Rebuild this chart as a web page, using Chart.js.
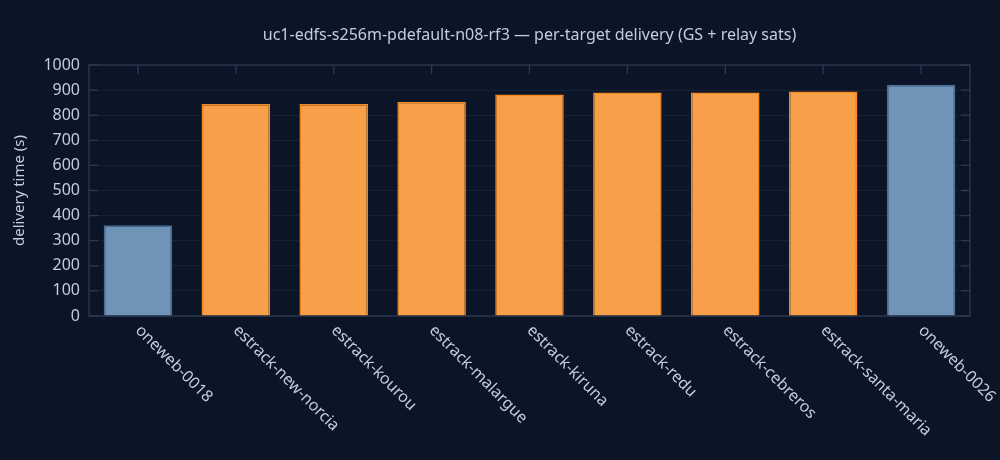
<!DOCTYPE html>
<html>
<head>
<meta charset="utf-8">
<script src="https://cdn.jsdelivr.net/npm/chart.js@4.4.1/dist/chart.umd.min.js"></script>
<style>
  html, body { margin: 0; padding: 0; background: #0b1527; }
  #wrap { width: 1000px; height: 460px; position: relative; }
</style>
</head>
<body>
<div id="wrap"><canvas id="chart"></canvas></div>
<script>
// data
const targets = [
  'oneweb-0018', 'estrack-new-norcia', 'estrack-kourou', 'estrack-malargue',
  'estrack-kiruna', 'estrack-redu', 'estrack-cebreros', 'estrack-santa-maria', 'oneweb-0026'
];
const deliveryTimes = [362, 845, 845, 854, 882, 890, 890, 894, 921];
const targetKinds = ['relay', 'gs', 'gs', 'gs', 'gs', 'gs', 'gs', 'gs', 'relay'];
const yTicks = [0, 100, 200, 300, 400, 500, 600, 700, 800, 900, 1000];

const titleText = 'uc1-edfs-s256m-pdefault-n08-rf3 \u2014 per-target delivery (GS + relay sats)';
const textColor = '#c3cddb';
const frameColor = '#2b3a51';
const fontFamily = '"Noto Sans", "Open Sans", sans-serif';

const fillFor = k => k === 'gs' ? '#f89f4a' : '#7093b8';
const edgeFor = k => k === 'gs' ? '#f5891f' : '#4a6e98';

// frame + inside ticks on all four sides (like a mirrored-tick style)
const framePlugin = {
  id: 'frame',
  beforeDatasetsDraw(chart) {
    const {ctx, chartArea: a, scales: {x, y}} = chart;
    ctx.save();
    ctx.strokeStyle = frameColor;
    ctx.lineWidth = 1.3;
    ctx.strokeRect(a.left, a.top, a.right - a.left, a.bottom - a.top);
    ctx.beginPath();
    yTicks.forEach(v => {
      const py = y.getPixelForValue(v);
      ctx.moveTo(a.left, py); ctx.lineTo(a.left + 9, py);
      ctx.moveTo(a.right, py); ctx.lineTo(a.right - 9, py);
    });
    targets.forEach((t, i) => {
      const px = x.getPixelForValue(i);
      ctx.moveTo(px, a.top); ctx.lineTo(px, a.top + 9);
      ctx.moveTo(px, a.bottom); ctx.lineTo(px, a.bottom - 9);
    });
    ctx.stroke();
    ctx.restore();
  },
  afterDraw(chart) {
    const {ctx, chartArea: a, scales: {x}} = chart;
    ctx.save();
    ctx.fillStyle = textColor;
    // title centred over the plot area
    ctx.font = '16px ' + fontFamily;
    ctx.textAlign = 'center';
    ctx.textBaseline = 'middle';
    ctx.fillText(titleText, (a.left + a.right) / 2, 35);
    // rotated category labels hanging down to the right
    ctx.font = '16px ' + fontFamily;
    ctx.textAlign = 'left';
    ctx.textBaseline = 'middle';
    targets.forEach((t, i) => {
      const px = x.getPixelForValue(i);
      ctx.save();
      ctx.translate(px, a.bottom + 12);
      ctx.rotate(Math.PI / 4);
      ctx.fillText(t, 0, 0);
      ctx.restore();
    });
    ctx.restore();
  }
};

new Chart(document.getElementById('chart'), {
  type: 'bar',
  data: {
    labels: targets,
    datasets: [{
      label: 'delivery time',
      data: deliveryTimes,
      backgroundColor: targetKinds.map(fillFor),
      borderColor: targetKinds.map(edgeFor),
      borderWidth: 1.5,
      barPercentage: 0.7,
      categoryPercentage: 1.0
    }]
  },
  options: {
    responsive: true,
    maintainAspectRatio: false,
    animation: false,
    layout: { padding: { top: 65, right: 30, left: 0, bottom: 0 } },
    plugins: {
      legend: { display: false },
      title: { display: false },
      tooltip: { enabled: false }
    },
    scales: {
      x: {
        grid: { display: false, drawTicks: false },
        border: { display: false },
        ticks: { display: false },
        afterFit(scale) { scale.height = 144; }
      },
      y: {
        min: 0,
        max: 1000,
        afterBuildTicks(scale) { scale.ticks = yTicks.map(v => ({value: v})); },
        afterFit(scale) { scale.width = 89; },
        grid: {
          color: 'rgba(140,160,190,0.09)',
          borderDash: [1, 4],
          drawTicks: false
        },
        border: { display: false },
        ticks: {
          color: textColor,
          padding: 9,
          font: { family: fontFamily, size: 16 },
          callback: v => String(v)
        },
        title: {
          display: true,
          text: 'delivery time (s)',
          color: textColor,
          padding: { top: 11, bottom: 0 },
          font: { family: fontFamily, size: 15 }
        }
      }
    }
  },
  plugins: [framePlugin]
});
</script>
</body>
</html>
